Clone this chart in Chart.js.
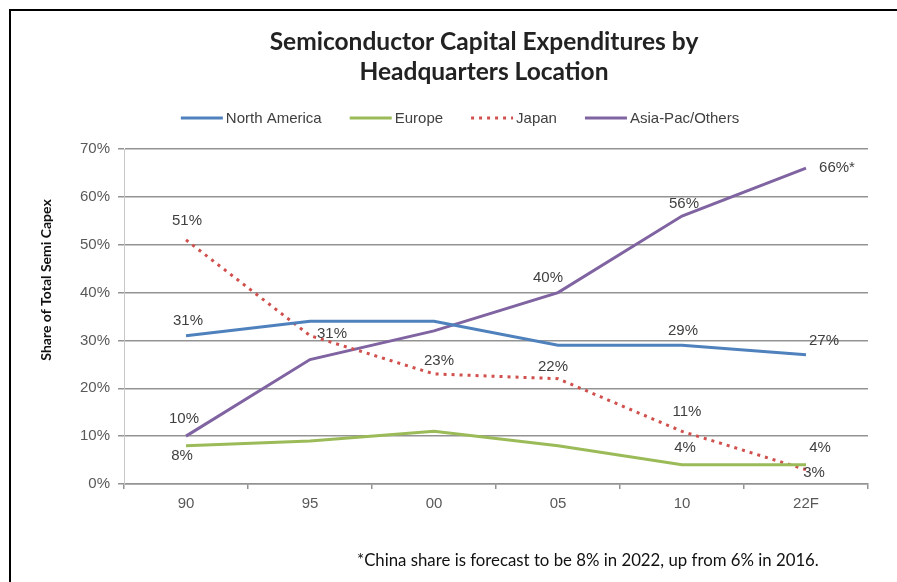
<!DOCTYPE html>
<html>
<head>
<meta charset="utf-8">
<title>Semiconductor Capital Expenditures by Headquarters Location</title>
<script src="https://cdn.jsdelivr.net/npm/chart.js@4.4.1/dist/chart.umd.min.js"></script>
<style>
  html,body{margin:0;padding:0;background:#fff;}
  #wrap{width:897px;height:582px;}
</style>
</head>
<body>
<div id="wrap"><canvas id="chart" width="897" height="582"></canvas></div>
<script>
/* data */
const years        = ['90','95','00','05','10','22F'];
const northAmerica = [31, 34, 34, 29, 29, 27];
const europe       = [8, 9, 11, 8, 4, 4];
const japan        = [51, 31, 23, 22, 11, 3];
const asiaPac      = [10, 26, 32, 40, 56, 66];

/* value labels shown on the chart (null = no label) */
const naText     = ['31%', null, null, null, '29%', '27%'];
const europeText = ['8%', null, null, null, '4%', '4%'];
const japanText  = ['51%', '31%', '23%', '22%', '11%', '3%'];
const asiaText   = ['10%', null, null, '40%', '56%', '66%*'];

const footnote = '*China share is forecast to be 8% in 2022, up from 6% in 2016.';
const titleLines = ['Semiconductor Capital Expenditures by', 'Headquarters Location'];
const yTitle = 'Share of Total Semi Capex';

/* label offsets from the point (text centre), per dataset */
const labelOffsets = [
  [[2,-15],null,null,null,[1,-14],[18,-14]],
  [[-4,10],null,null,null,[3,-17],[14,-17]],
  [[1,-19],[22,-2],[5,-13],[-5,-12],[5,-19],[8,3]],
  [[-2,-17],null,null,[-10,-15],[2,-12],[31,0]]
];
const labelTexts = [naText, europeText, japanText, asiaText];

const GRID = '#939393';
const TXT = '#404040';

/* everything drawn around the plot: border, title, legend, labels, footnote */
const decor = {
  id: 'decor',
  afterDatasetsDraw(chart){
    const c = chart.ctx;
    c.save();
    c.font = '15px "Liberation Sans", Arial, sans-serif';
    c.fillStyle = TXT;
    c.textAlign = 'center';
    c.textBaseline = 'middle';
    chart.data.datasets.forEach((ds, i)=>{
      const pts = chart.getDatasetMeta(i).data;
      labelTexts[i].forEach((t, j)=>{
        if(!t) return;
        const o = labelOffsets[i][j];
        c.fillText(t, pts[j].x + o[0], pts[j].y + o[1]);
      });
    });
    c.restore();
  },
  afterDraw(chart){
    const c = chart.ctx;
    c.save();
    // frame
    c.strokeStyle = '#000';
    c.lineWidth = 2;
    c.strokeRect(10, 10, 900, 600);

    // title
    c.fillStyle = '#222';
    c.textAlign = 'center';
    c.textBaseline = 'middle';
    c.font = 'bold 24.5px Lato, "Open Sans", sans-serif';
    c.fillText(titleLines[0], 484, 42);
    c.fillText(titleLines[1], 484, 72);

    // legend
    c.font = '15px "Liberation Sans", Arial, sans-serif';
    c.textAlign = 'left';
    const items = chart.data.datasets.map(ds=>({ds, w: 42 + 5 + c.measureText(ds.label).width}));
    const gap = 26;
    const total = items.reduce((a,b)=>a+b.w,0) + gap*(items.length-1);
    let x = 461 - total/2;
    const ly = 118;
    items.forEach(it=>{
      c.strokeStyle = it.ds.borderColor;
      c.lineWidth = it.ds.borderWidth;
      c.setLineDash(it.ds.borderDash || []);
      c.beginPath(); c.moveTo(x, ly); c.lineTo(x+42, ly); c.stroke();
      c.setLineDash([]);
      c.fillStyle = TXT;
      c.fillText(it.ds.label, x+45, ly+1);
      x += it.w + gap;
    });

    // y axis title
    c.save();
    c.translate(46, 280);
    c.rotate(-Math.PI/2);
    c.textAlign = 'center';
    c.font = 'bold 14px Lato, "Open Sans", sans-serif';
    c.fillStyle = '#111';
    c.fillText(yTitle, 0, 0);
    c.restore();

    // footnote
    c.font = '16.8px Lato, "Open Sans", sans-serif';
    c.fillStyle = '#111';
    c.textAlign = 'left';
    c.fillText(footnote, 357, 561);
    c.restore();
  }
};

const tickFont = {family:'"Liberation Sans", Arial, sans-serif', size:15};

new Chart(document.getElementById('chart').getContext('2d'), {
  type: 'line',
  data: {
    labels: years,
    datasets: [
      {label:'North America', data:northAmerica, borderColor:'#4F81BD', borderWidth:3, pointRadius:0, tension:0},
      {label:'Europe', data:europe, borderColor:'#9BBB59', borderWidth:3, pointRadius:0, tension:0},
      {label:'Japan', data:japan, borderColor:'#D0504D', borderWidth:3, borderDash:[3,5], pointRadius:0, tension:0},
      {label:'Asia-Pac/Others', data:asiaPac, borderColor:'#8064A2', borderWidth:3, pointRadius:0, tension:0}
    ]
  },
  options: {
    responsive: false,
    animation: false,
    layout: {padding:{top:149, left:10, right:29, bottom:0}},
    plugins: {legend:{display:false}, title:{display:false}, tooltip:{enabled:false}},
    scales: {
      x: {
        offset: true,
        grid: {offset:true, drawOnChartArea:false, tickLength:5, color:GRID, lineWidth:1.5},
        border: {color:GRID, width:1.5},
        ticks: {color:'#595959', font:tickFont, padding:6},
        afterFit: s=>{ s.height = 98; }
      },
      y: {
        min: 0, max: 70,
        grid: {color:GRID, lineWidth:1.5, tickLength:6},
        border: {color:'#c8c8c8', width:1},
        ticks: {stepSize:10, color:'#595959', font:tickFont, padding:8, callback:v=>v+'%'},
        afterFit: s=>{ s.width = 114; }
      }
    }
  },
  plugins: [decor]
});
</script>
</body>
</html>
